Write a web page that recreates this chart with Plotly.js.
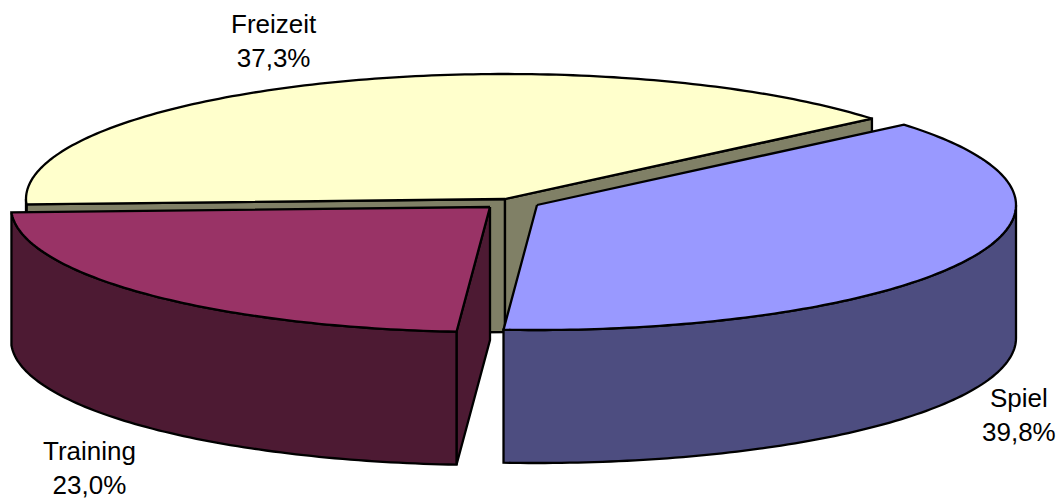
<!DOCTYPE html>
<html>
<head>
<meta charset="utf-8">
<script src="https://cdn.plot.ly/plotly-3.0.1.min.js"></script>
<style>html,body{margin:0;padding:0;background:#fff}#chart{width:1061px;height:499px}</style>
</head>
<body>
<div id="chart"></div>
<script>
// Data (clockwise order)
const categories = ["Spiel", "Training", "Freizeit"];
const shares = [39.8, 23.0, 37.3];
const percentLabels = ["39,8%", "23,0%", "37,3%"];

// Geometry and styling of the exploded 3D pie
const RX = 479, RY = 125, DEPTH = 133;
const centres = { Spiel: [537, 205], Freizeit: [505, 199], Training: [490, 207] };
const topColours = { Spiel: "#9999FF", Freizeit: "#FFFFCC", Training: "#993366" };
const sideColours = { Spiel: "#4D4D80", Freizeit: "#808066", Training: "#4D1A33" };
const labelPos = { Spiel: [1019, 415], Freizeit: [274, 41], Training: [89, 468] };
// Perspective warp of the disc angle (degrees)
const WARP_A = -0.2, WARP_B = 5.005, WARP_C = -45.005;

const rad = d => d * Math.PI / 180;
const warp = t => t + WARP_A * Math.sin(rad(t)) + WARP_B * Math.cos(rad(t)) + WARP_C;

const total = shares.reduce((a, b) => a + b, 0);
const bounds = {};
let acc = 0;
categories.forEach((c, i) => {
  const t0 = acc, t1 = acc + shares[i] / total * 360;
  bounds[c] = [warp(t0), warp(t1)];
  acc = t1;
});

function rim(c, a0, a1, dy) {
  const [cx, cy] = centres[c];
  const n = Math.max(2, Math.ceil(Math.abs(a1 - a0)));
  const pts = [];
  for (let i = 0; i <= n; i++) {
    const a = rad(a0 + (a1 - a0) * i / n);
    pts.push([cx + RX * Math.cos(a), cy + RY * Math.sin(a) + (dy || 0)]);
  }
  return pts;
}
function shape(pts, colour) {
  const closed = pts.concat([pts[0]]);
  return {
    type: "scatter", mode: "lines", fill: "toself", fillcolor: colour,
    x: closed.map(p => p[0]), y: closed.map(p => p[1]),
    line: { color: "#000", width: 2.3, simplify: false },
    hoverinfo: "skip", showlegend: false
  };
}
function wall(c, a0, a1, colour) { // curved outer wall
  return shape(rim(c, a0, a1, 0).concat(rim(c, a1, a0, DEPTH)), colour);
}
function cutFace(c, a, colour) { // flat face from the centre to the rim at angle a
  const [cx, cy] = centres[c];
  const p = rim(c, a, a, 0)[0];
  return shape([[cx, cy], p, [p[0], p[1] + DEPTH], [cx, cy + DEPTH]], colour);
}
function topFace(c) {
  return shape([centres[c]].concat(rim(c, bounds[c][0], bounds[c][1], 0)), topColours[c]);
}

const spielEnd = bounds.Spiel[1];
const [trainStart, trainEnd] = bounds.Training;
const [freiStart, freiEnd] = bounds.Freizeit;

const traces = [
  // Freizeit: its two cut faces and short wall, then the top
  cutFace("Freizeit", freiStart, sideColours.Freizeit),
  cutFace("Freizeit", freiEnd, sideColours.Freizeit),
  wall("Freizeit", freiStart, 180, sideColours.Freizeit),
  topFace("Freizeit"),
  // Spiel
  wall("Spiel", 0, spielEnd, sideColours.Spiel),
  topFace("Spiel"),
  // Training
  cutFace("Training", trainStart, sideColours.Training),
  wall("Training", trainStart, trainEnd, sideColours.Training),
  topFace("Training")
];

const annotations = categories.map((c, i) => ({
  x: labelPos[c][0], y: labelPos[c][1], xref: "x", yref: "y",
  text: c + "<br>" + percentLabels[i], showarrow: false,
  xanchor: "center", yanchor: "middle", align: "center",
  font: { family: "Liberation Sans, Arial, sans-serif", size: 26, color: "#000" }
}));

const hidden = { visible: false, fixedrange: true, showgrid: false, zeroline: false };
Plotly.newPlot("chart", traces, {
  width: 1061, height: 499,
  margin: { l: 0, r: 0, t: 0, b: 0 },
  paper_bgcolor: "#fff", plot_bgcolor: "#fff",
  xaxis: Object.assign({ range: [0, 1061] }, hidden),
  yaxis: Object.assign({ range: [499, 0] }, hidden),
  annotations: annotations,
  showlegend: false
}, { displayModeBar: false, staticPlot: true });
</script>
</body>
</html>
